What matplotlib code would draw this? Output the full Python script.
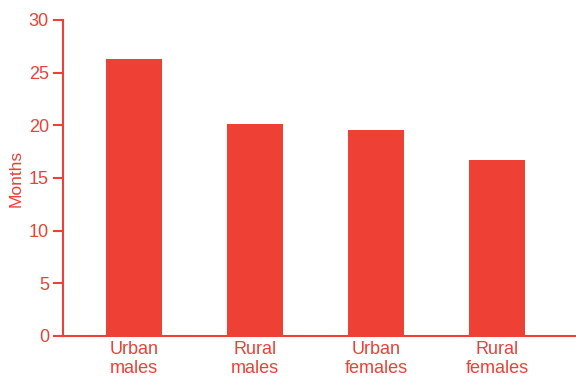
import matplotlib.pyplot as plt

# data
groups = ['Urban\nmales', 'Rural\nmales', 'Urban\nfemales', 'Rural\nfemales']
months = [26.3, 20.1, 19.6, 16.7]
yticks = [0, 5, 10, 15, 20, 25, 30]

red = '#EF4035'
plt.rcParams['font.family'] = ['Liberation Sans', 'DejaVu Sans']

fig = plt.figure(figsize=(5.76, 3.77), dpi=100)
ax = fig.add_axes([0.109, 0.109, 0.891, 0.838])

x = range(len(groups))
ax.bar(x, months, width=0.465, color=red)

ax.set_xlim(-0.587, 3.653)
ax.set_ylim(0, 30)
ax.set_yticks(yticks)
ax.set_xticks(list(x))
ax.set_xticklabels(groups, color=red, fontsize=13, linespacing=1.1)
ax.tick_params(axis='x', length=0, pad=4)
ax.tick_params(axis='y', colors=red, labelsize=13, length=7, width=1.5, pad=3)
ax.set_ylabel('Months', color=red, fontsize=12.5, labelpad=4)

for side in ['top', 'right']:
    ax.spines[side].set_visible(False)
for side in ['left', 'bottom']:
    ax.spines[side].set_color(red)
    ax.spines[side].set_linewidth(1.5)

fig.savefig('out.png', dpi=100)
